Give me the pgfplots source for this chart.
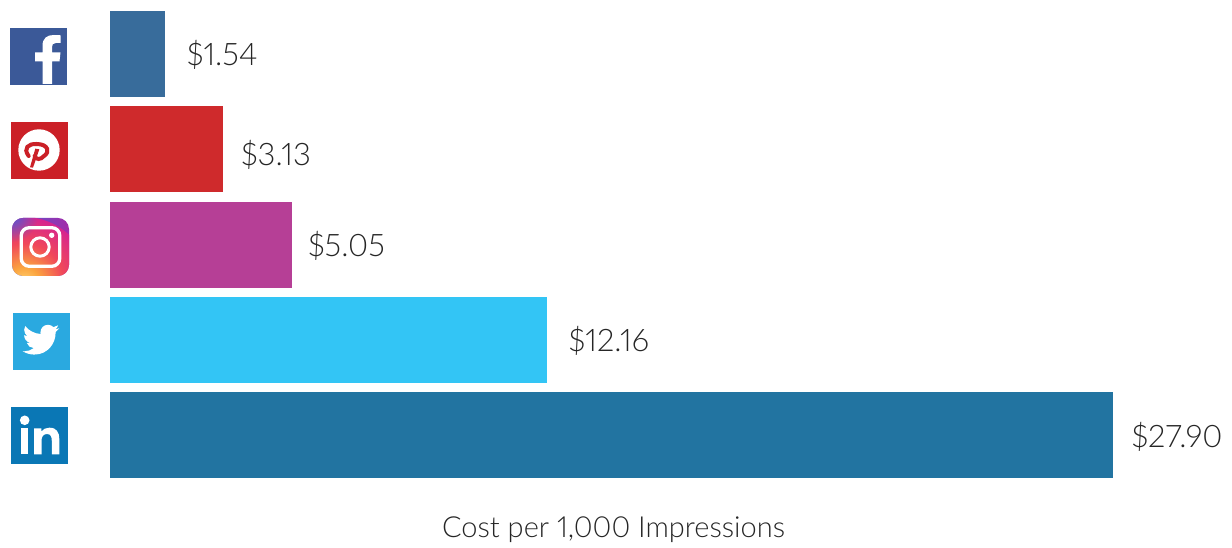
\documentclass[border=0pt]{standalone}
\usepackage{pgfplots}
\pgfplotsset{compat=1.18}
\usepackage{fontspec}
\usetikzlibrary{fadings}
\setmainfont{Lato}[UprightFont=* Light,Numbers=Proportional]
\definecolor{barfb}{HTML}{386C9B}
\definecolor{barpin}{HTML}{CF2A2C}
\definecolor{barig}{HTML}{B63F96}
\definecolor{bartw}{HTML}{33C5F5}
\definecolor{barli}{HTML}{2274A1}
\definecolor{ink}{HTML}{262626}
\definecolor{iconfb}{HTML}{3B5998}
\definecolor{iconpin}{HTML}{CB2027}
\definecolor{icontw}{HTML}{2AA9E0}
\definecolor{iconli}{HTML}{0A77B5}
\definecolor{igblue}{HTML}{4F5BD5}
\definecolor{igviolet}{HTML}{A52AA8}
\definecolor{igone}{HTML}{FFD676}
\definecolor{igtwo}{HTML}{FBA43F}
\definecolor{igthree}{HTML}{F0485A}
\definecolor{igfour}{HTML}{D6248F}
\definecolor{igfive}{HTML}{A822A8}
\definecolor{igsix}{HTML}{8533B8}
\tikzfading[name=cornerglow, inner color=transparent!0, outer color=transparent!100]
\pgfdeclareradialshading{igglow}{\pgfpointorigin}{%
  color(0bp)=(igone);
  color(6bp)=(igtwo);
  color(15bp)=(igthree);
  color(25bp)=(igfour);
  color(40bp)=(igfive);
  color(50bp)=(igsix)}
\begin{document}
\begin{tikzpicture}
\useasboundingbox (0,0) rectangle (1232pt,548pt);
\begin{axis}[
  at={(0,0)}, anchor=south west,
  scale only axis, width=1232pt, height=548pt,
  hide axis, clip=false,
  xmin=-3.06, xmax=31.21,
  ymin=-0.567, ymax=5.186, y dir=reverse,
  xbar, bar width=86pt, bar shift=0pt,
  nodes near coords={\$\pgfmathprintnumber[assume math mode=true,fixed,fixed zerofill,precision=2]{\pgfplotspointmeta}},
  nodes near coords align={horizontal},
  every node near coord/.append style={font=\fontsize{31}{31}\selectfont, text=ink},
]
\addplot[draw=none, fill=barfb, every node near coord/.append style={xshift=18pt,yshift=-1pt}]  coordinates {(1.54,0)};
\addplot[draw=none, fill=barpin, every node near coord/.append style={xshift=15pt,yshift=-6pt}] coordinates {(3.13,1)};
\addplot[draw=none, fill=barig, every node near coord/.append style={xshift=13pt,yshift=-1pt}]  coordinates {(5.05,2)};
\addplot[draw=none, fill=bartw, every node near coord/.append style={xshift=18pt,yshift=-1pt}]  coordinates {(12.16,3)};
\addplot[draw=none, fill=barli, every node near coord/.append style={xshift=15pt,yshift=-2pt}]  coordinates {(27.90,4)};
\end{axis}
\node[font=\fontsize{29}{29}\selectfont, text=ink] at (613.5pt,18pt) {Cost per 1,000 Impressions};

% Network logos beside the bars, laid out in a top-down coordinate system
\begin{scope}[x=1pt,y=-1pt,shift={(0pt,548pt)}]
  % Facebook
  \fill[iconfb] (10,28) rectangle (67,85);
  \fill[white] (42.5,84) -- (42.5,61.5) -- (35,61.5) -- (35,52.5) -- (42.5,52.5) -- (42.5,46)
    .. controls (42.5,38) and (47,35) .. (54,35) -- (60.7,35.3) -- (60.7,43) -- (56,43)
    .. controls (53,43) and (52,44.5) .. (52,47) -- (52,52.5) -- (60.5,52.5) -- (59.5,61.5)
    -- (52,61.5) -- (52,84) -- cycle;
  % Pinterest
  \fill[iconpin] (11,122) rectangle (68,179);
  \fill[white] (39,150) circle (20.7pt);
  \begin{scope}[shift={(8,120)},x=0.3333pt,y=-0.3333pt]
    \draw[iconpin,line width=4pt,line cap=round]
      (62,108) .. controls (44,84) and (62,71) .. (85,72)
      .. controls (122,72) and (126,97) .. (108,108)
      .. controls (98,120) and (84,120) .. (80,108);
    \fill[iconpin] (82,86) -- (94,88) -- (75,143) -- (66,142) -- cycle;
  \end{scope}
  % Instagram
  \begin{scope}
    \clip[rounded corners=11pt] (12,218) rectangle (69,276);
    \shade[left color=igblue, right color=igviolet] (12,218) rectangle (69,276);
    \shade[shading=igglow] (24,283) circle (66pt);
    \fill[igblue,path fading=cornerglow] (12,216) circle (26pt);
  \end{scope}
  \draw[white,line width=3.3pt,rounded corners=8pt] (21.2,227.7) rectangle (59.8,266.3);
  \draw[white,line width=3pt] (40,247) circle (9.2pt);
  \fill[white] (51.7,235.3) circle (2.7pt);
  % Twitter
  \fill[icontw] (13,313) rectangle (70,370);
  \begin{scope}[shift={(22.7,321.3)},x=1.525pt,y=-1.53pt]
    \fill[white] (23.95,4.57)
      .. controls (23.1,4.95) and (22.1,5.2) .. (21.13,5.35)
      .. controls (22.15,4.75) and (22.95,3.75) .. (23.29,2.62)
      .. controls (22.34,3.18) and (21.29,3.58) .. (20.16,3.81)
      .. controls (19.2,2.9) and (17.9,2.27) .. (16.57,2.27)
      .. controls (13.85,2.27) and (11.65,4.47) .. (11.65,7.19)
      .. controls (11.65,7.57) and (11.69,7.93) .. (11.78,8.29)
      .. controls (7.69,8.095) and (4.067,6.13) .. (1.64,3.16)
      .. controls (1.22,3.88) and (0.97,4.73) .. (0.97,5.64)
      .. controls (0.97,7.35) and (1.84,8.85) .. (3.16,9.73)
      .. controls (2.35,9.7) and (1.58,9.48) .. (0.93,9.12)
      -- (0.93,9.18)
      .. controls (0.93,11.55) and (2.62,13.53) .. (4.88,14.0)
      .. controls (3.96,14.25) and (3.2,14.25) .. (2.67,14.09)
      .. controls (3.3,16.1) and (5.15,17.46) .. (7.27,17.5)
      .. controls (5.6,18.8) and (3.5,19.61) .. (1.17,19.61)
      .. controls (0.78,19.61) and (0.39,19.59) .. (0,19.54)
      .. controls (2.18,20.94) and (4.77,21.75) .. (7.56,21.75)
      .. controls (16.61,21.75) and (21.55,14.25) .. (21.55,7.77)
      .. controls (21.55,7.56) and (21.55,7.35) .. (21.54,7.14)
      .. controls (22.5,6.45) and (23.33,5.58) .. (24,4.59)
      -- cycle;
  \end{scope}
  % LinkedIn
  \fill[iconli] (11,407) rectangle (68,464);
  \fill[white] (24.7,420.3) circle (4.8pt);
  \fill[white] (21,428.3) rectangle (28.3,454.3);
  \fill[white] (34,454.3) -- (34,428.3) -- (41.3,428.3) -- (41.3,431.5)
    .. controls (43,429) and (46,427.7) .. (49.5,427.7)
    .. controls (56.5,427.7) and (59.3,432) .. (59.3,439.5)
    -- (59.3,454.3) -- (51.8,454.3) -- (51.8,441)
    .. controls (51.8,436.5) and (50.5,434) .. (47,434)
    .. controls (43.5,434) and (41.5,436.5) .. (41.5,440.5)
    -- (41.5,454.3) -- cycle;
\end{scope}
\end{tikzpicture}
\end{document}
